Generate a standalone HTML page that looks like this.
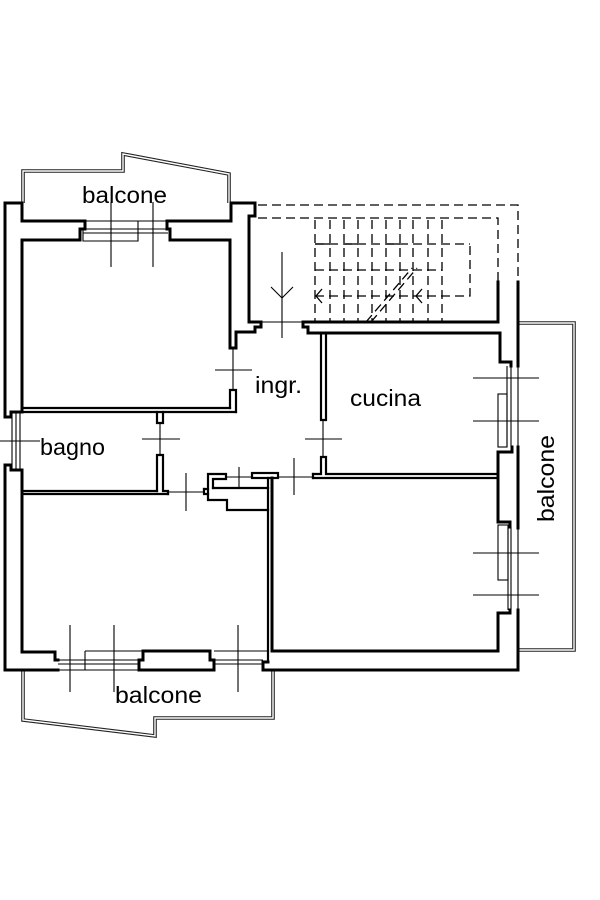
<!DOCTYPE html>
<html><head><meta charset="utf-8"><style>
html,body{margin:0;padding:0;background:#fff;}
svg{display:block;}
text{font-family:"Liberation Sans",Arial,sans-serif;font-size:23px;fill:#000;}
</style></head><body>
<svg width="600" height="900" viewBox="0 0 600 900" xmlns="http://www.w3.org/2000/svg">
<rect width="600" height="900" fill="#fff"/>

<!-- balconies (double thin outlines) -->
<g fill="none" stroke="#222" stroke-width="3.6" stroke-linejoin="miter">
<polyline points="23,203 23,171 123,171 123,154 229,174 229,203"/>
<polyline points="518,323 574,323 574,650 518,650"/>
<polyline points="23,670 23,720 155,736 155,718 273,718 273,670"/>
</g>
<g fill="none" stroke="#fff" stroke-width="1.4" stroke-linejoin="miter">
<polyline points="23,203 23,171 123,171 123,154 229,174 229,203"/>
<polyline points="518,323 574,323 574,650 518,650"/>
<polyline points="23,670 23,720 155,736 155,718 273,718 273,670"/>
</g>

<!-- stairs (dashed) -->
<g fill="none" stroke="#000" stroke-width="1.3" stroke-dasharray="9,5">
<polyline points="258,205 518,205 518,282"/>
<polyline points="258,218 498,218 498,282"/>
<line x1="315" y1="220" x2="315" y2="322"/>
<line x1="330" y1="220" x2="330" y2="322"/>
<line x1="344" y1="220" x2="344" y2="322"/>
<line x1="358" y1="220" x2="358" y2="322"/>
<line x1="372" y1="220" x2="372" y2="322"/>
<line x1="386" y1="220" x2="386" y2="322"/>
<line x1="400" y1="220" x2="400" y2="322"/>
<line x1="413" y1="220" x2="413" y2="322"/>
<line x1="428" y1="220" x2="428" y2="322"/>
<line x1="442" y1="220" x2="442" y2="322"/>
<line x1="315" y1="244" x2="470" y2="244"/>
<line x1="315" y1="270" x2="442" y2="270"/>
<polyline points="315,296 470,296 470,244"/>
<line x1="366" y1="322" x2="412" y2="268"/>
<line x1="371" y1="322" x2="417" y2="268"/>
</g>
<g fill="none" stroke="#000" stroke-width="1.3">
<polyline points="322,289 316,296 322,303"/>
<polyline points="422,289 416,296 422,303"/>
<line x1="315" y1="244" x2="330" y2="244"/>
<line x1="344" y1="244" x2="358" y2="244"/>
<line x1="386" y1="244" x2="400" y2="244"/>
</g>

<!-- thick walls -->
<g fill="none" stroke="#000" stroke-width="3" stroke-linejoin="miter" stroke-linecap="square">
<polyline points="5,417 5,203 22,203 22,221 85,221 85,226"/>
<polyline points="22,412 22,240 80,240 80,229 85,229"/>
<polyline points="170,229 170,240 230,240 230,348 236,348 236,332 255,332 255,327 261,327 261,322 249,322 249,216 255,216 255,203 231,203 231,221 167,221 167,226"/>
<line x1="167" y1="229" x2="170" y2="229"/>
<!-- bagno window on left -->
<polyline points="5,417 11,417 11,412 22,412"/>
<polyline points="5,465 11,465 11,470 22,470 22,652 55,652 55,660 58,660"/>
<polyline points="5,465 5,670 58,670"/>
<!-- bottom pier -->
<polyline points="139,670 139,660 143,660 143,651 210,651 210,660 214,660 214,670"/>
<line x1="139" y1="670" x2="214" y2="670"/>
<polyline points="268,662 263,662 263,670 518,670 518,610"/>
<!-- stair / kitchen walls -->
<polyline points="303,327 303,322 498,322 498,282"/>
<polyline points="303,327 308,327 308,333 500,333 500,362 511,362 511,366"/>
<line x1="518" y1="282" x2="518" y2="366"/>
<polyline points="498,478 498,452 512,452 512,447"/>
<line x1="518" y1="447" x2="518" y2="528"/>
<!-- bottom right room -->
<polyline points="498,478 498,522 510,522 510,527"/>
<polyline points="510,610 510,613 498,613 498,651 272,651 272,478"/>
</g>

<!-- partitions (double lines) -->
<g fill="none" stroke="#000" stroke-width="2.2" stroke-linejoin="miter" stroke-linecap="square">
<line x1="22" y1="408" x2="230" y2="408"/>
<line x1="22" y1="412" x2="236" y2="412"/>
<polyline points="230,408 230,390 236,390 236,412"/>
<polyline points="157,412 157,423 163,423 163,412"/>
<polyline points="157,491 157,455 163,455 163,491 168,491 168,494"/>
<line x1="22" y1="491" x2="157" y2="491"/>
<line x1="22" y1="494" x2="168" y2="494"/>
<!-- centre complex -->
<polyline points="213,488 213,479 226,479 226,474 208,474 208,500 227,500 227,510 268,510"/>
<line x1="213" y1="488" x2="268" y2="488"/>
<polyline points="204,489 204,494 208,494"/>
<line x1="204" y1="489" x2="208" y2="489"/>
<rect x="252" y="473" width="26" height="5"/>
<line x1="268" y1="478" x2="268" y2="662"/>
<!-- kitchen -->
<polyline points="321,333 321,420 326,420 326,333"/>
<polyline points="313,474 321,474 321,457 326,457 326,474 498,474"/>
<line x1="313" y1="478" x2="498" y2="478"/>
<line x1="313" y1="474" x2="313" y2="478"/>
</g>

<!-- thin lines: windows, thresholds, door marks -->
<g fill="none" stroke="#000" stroke-width="1.1">
<!-- top window -->
<line x1="85" y1="221" x2="167" y2="221"/>
<line x1="83" y1="229" x2="168" y2="229"/>
<line x1="83" y1="233" x2="168" y2="233"/>
<polyline points="83,229 83,241 138,241 138,221"/>
<line x1="111" y1="202" x2="111" y2="267"/>
<line x1="153" y1="202" x2="153" y2="267"/>
<!-- bagno window -->
<line x1="12" y1="412" x2="12" y2="470"/>
<line x1="16" y1="412" x2="16" y2="470"/>
<line x1="20" y1="412" x2="20" y2="470"/>
<line x1="0" y1="441" x2="40" y2="441"/>
<!-- bottom windows -->
<line x1="85" y1="651" x2="143" y2="651"/>
<line x1="58" y1="660" x2="139" y2="660"/>
<line x1="58" y1="664" x2="139" y2="664"/>
<line x1="58" y1="670" x2="139" y2="670"/>
<line x1="85" y1="651" x2="85" y2="670"/>
<line x1="214" y1="651" x2="268" y2="651"/>
<line x1="214" y1="660" x2="263" y2="660"/>
<line x1="214" y1="664" x2="263" y2="664"/>
<line x1="70" y1="625" x2="70" y2="692"/>
<line x1="114" y1="625" x2="114" y2="692"/>
<line x1="238" y1="625" x2="238" y2="692"/>
<!-- kitchen window -->
<line x1="507" y1="366" x2="507" y2="447"/>
<line x1="511" y1="366" x2="511" y2="447"/>
<line x1="518" y1="366" x2="518" y2="447"/>
<rect x="498" y="394" width="9" height="53"/>
<line x1="473" y1="378" x2="539" y2="378"/>
<line x1="473" y1="421" x2="539" y2="421"/>
<!-- bottom right window -->
<line x1="508" y1="527" x2="508" y2="610"/>
<line x1="511" y1="527" x2="511" y2="610"/>
<line x1="518" y1="527" x2="518" y2="610"/>
<rect x="498" y="525" width="10" height="55"/>
<line x1="473" y1="553" x2="539" y2="553"/>
<line x1="473" y1="595" x2="539" y2="595"/>
<!-- doors -->
<line x1="233" y1="348" x2="233" y2="390"/>
<line x1="215" y1="370" x2="252" y2="370"/>
<line x1="160" y1="423" x2="160" y2="455"/>
<line x1="142" y1="439" x2="180" y2="439"/>
<line x1="323" y1="420" x2="323" y2="457"/>
<line x1="305" y1="439" x2="342" y2="439"/>
<line x1="168" y1="492" x2="204" y2="492"/>
<line x1="186" y1="473" x2="186" y2="511"/>
<line x1="226" y1="477" x2="252" y2="477"/>
<line x1="239" y1="467" x2="239" y2="487"/>
<line x1="278" y1="477" x2="313" y2="477"/>
<line x1="294" y1="458" x2="294" y2="495"/>
<line x1="261" y1="322" x2="303" y2="322"/>
<line x1="282" y1="252" x2="282" y2="338"/>
<polyline points="271,287 282,298 293,287"/>
</g>

<!-- labels -->
<text x="82" y="203" textLength="85" lengthAdjust="spacingAndGlyphs">balcone</text>
<text x="255" y="393" textLength="47" lengthAdjust="spacingAndGlyphs">ingr.</text>
<text x="350" y="406" textLength="71" lengthAdjust="spacingAndGlyphs">cucina</text>
<text x="40" y="455" textLength="65" lengthAdjust="spacingAndGlyphs">bagno</text>
<text x="115" y="703" textLength="87" lengthAdjust="spacingAndGlyphs">balcone</text>
<text transform="translate(554,522) rotate(-90)" x="0" y="0" textLength="87" lengthAdjust="spacingAndGlyphs">balcone</text>
</svg>
</body></html>
